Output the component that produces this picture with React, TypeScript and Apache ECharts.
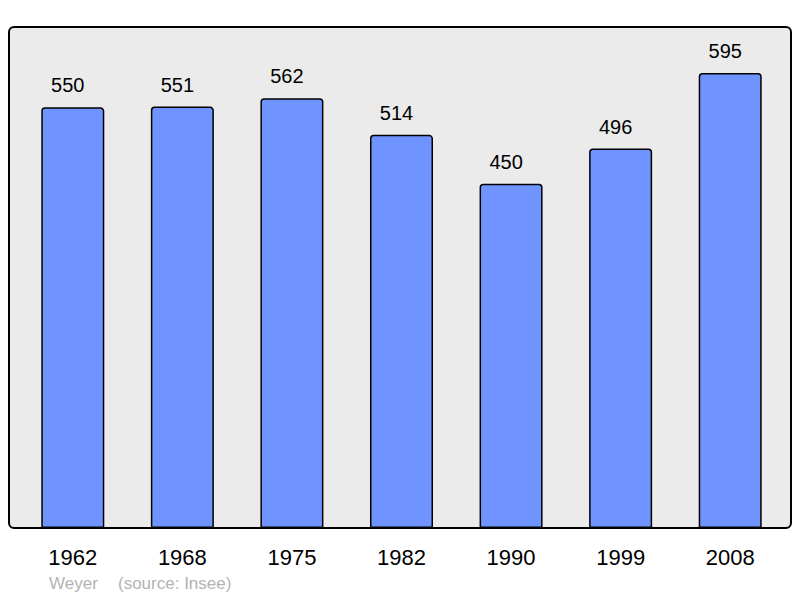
import React, { useEffect, useRef } from "react";
import * as echarts from "echarts";

const years = ["1962", "1968", "1975", "1982", "1990", "1999", "2008"];
const population = [550, 551, 562, 514, 450, 496, 595];
const sourceLabel = "Weyer";
const sourceNote = "(source: Insee)";

export default function App() {
  const ref = useRef<HTMLDivElement>(null);
  useEffect(() => {
    if (!ref.current) return;
    const chart = echarts.init(ref.current, null, { renderer: "svg" });
    chart.setOption({
      animation: false,
      textStyle: { fontFamily: "Liberation Sans, Arial, sans-serif" },
      grid: { left: 18, right: 15, top: 27, bottom: 70, containLabel: false },
      xAxis: {
        type: "category",
        data: years,
        axisLine: { show: false },
        axisTick: { show: false },
        axisLabel: {
          color: "#000",
          fontSize: 22,
          margin: 18,
          fontFamily: "Liberation Sans, Arial, sans-serif",
        },
      },
      yAxis: {
        type: "value",
        min: 0,
        max: 655,
        show: false,
        splitLine: { show: false },
      },
      graphic: [
        {
          type: "rect",
          z: -10,
          silent: true,
          shape: { x: 9, y: 27, width: 782, height: 501, r: 5 },
          style: { fill: "#ebebeb", stroke: "#000", lineWidth: 2 },
        },
        {
          type: "text",
          left: 49,
          top: 575,
          style: {
            text: sourceLabel,
            fill: "#b3b3b3",
            fontSize: 17,
            fontFamily: "Liberation Sans, Arial, sans-serif",
          },
        },
        {
          type: "text",
          left: 118,
          top: 575,
          style: {
            text: sourceNote,
            fill: "#b3b3b3",
            fontSize: 17,
            fontFamily: "Liberation Sans, Arial, sans-serif",
          },
        },
      ],
      series: [
        {
          type: "bar",
          data: population,
          barWidth: 63,
          itemStyle: {
            color: "#7094ff",
            borderColor: "#000",
            borderWidth: 1.5,
            borderRadius: [3, 3, 0, 0],
          },
          label: {
            show: true,
            position: "top",
            distance: 12,
            offset: [-5, 0],
            color: "#000",
            fontSize: 20,
            fontFamily: "Liberation Sans, Arial, sans-serif",
          },
        },
      ],
    });
    return () => chart.dispose();
  }, []);
  return <div ref={ref} style={{ width: 800, height: 598, position: "absolute", left: 0, top: 0 }} />;
}
